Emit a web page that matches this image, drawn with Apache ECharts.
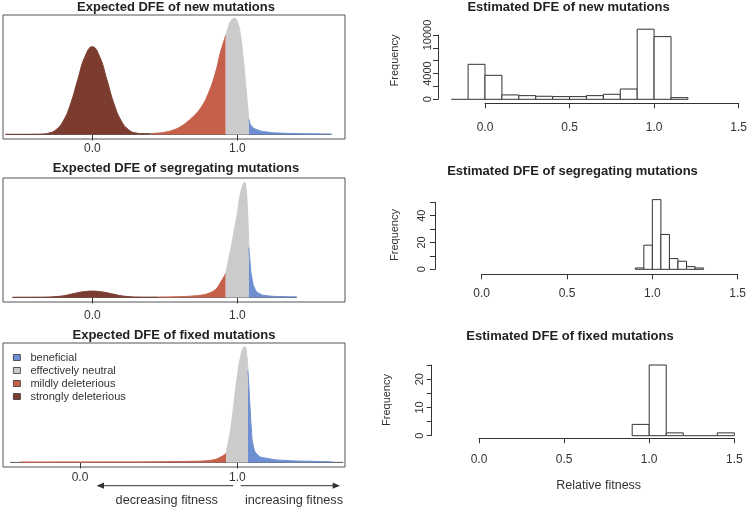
<!DOCTYPE html>
<html>
<head>
<meta charset="utf-8">
<script src="https://cdn.jsdelivr.net/npm/echarts@6/dist/echarts.min.js"></script>
<style>
html, body { margin: 0; padding: 0; background: #fff; }
#main { width: 750px; height: 508px; }
</style>
</head>
<body>
<div id="main"></div>
<script>
// expected DFE curves: relative fitness and curve height
const newX = [-0.6, -0.5, -0.4, -0.35, -0.3, -0.25, -0.2, -0.15, -0.1, -0.05, 0, 0.05, 0.1, 0.15, 0.2, 0.25, 0.3, 0.35, 0.4, 0.45, 0.5, 0.55, 0.6, 0.65, 0.7, 0.75, 0.8, 0.85, 0.88, 0.9, 0.92, 0.94, 0.96, 0.98, 1.0, 1.02, 1.04, 1.06, 1.08, 1.1, 1.15, 1.2, 1.3, 1.4, 1.5, 1.65];
const newY = [0, 0, 0.1, 0.3, 1.3, 4.7, 13.5, 30.5, 55, 78, 87.7, 78, 55, 30.5, 13.5, 4.7, 1.5, 0.8, 0.8, 1.3, 2.2, 4, 7, 12, 18.5, 27, 41, 62, 80, 90, 99, 108, 114.5, 116, 113, 101, 77, 46, 15, 8, 4, 2.5, 1.3, 0.9, 0.6, 0.3];
const newCuts = [0.4, 0.92, 1.08];
const newRange = [-0.6, 1.65];

const segX = [-0.55, -0.4, -0.3, -0.25, -0.2, -0.15, -0.1, -0.05, 0, 0.05, 0.1, 0.15, 0.2, 0.25, 0.3, 0.4, 0.45, 0.5, 0.6, 0.65, 0.7, 0.75, 0.8, 0.85, 0.88, 0.92, 0.94, 0.96, 0.98, 1.0, 1.02, 1.04, 1.05, 1.06, 1.07, 1.08, 1.09, 1.1, 1.12, 1.15, 1.2, 1.3, 1.41];
const segY = [0.1, 0.15, 0.35, 0.8, 1.6, 3.1, 4.7, 5.8, 6.3, 5.8, 4.7, 3.1, 1.6, 0.8, 0.35, 0.2, 0.3, 0.4, 0.7, 1, 1.5, 2.2, 4, 8, 14, 24, 38, 52, 68, 84, 103, 113, 115, 110, 88, 50, 32, 20, 9, 4, 1.8, 0.8, 0.5];
const segCuts = [0.45, 0.92, 1.08];
const segRange = [-0.55, 1.41];

const fixX = [-0.38, -0.2, 0, 0.2, 0.4, 0.5, 0.6, 0.7, 0.8, 0.85, 0.89, 0.928, 0.94, 0.96, 0.98, 1.0, 1.02, 1.04, 1.05, 1.06, 1.068, 1.08, 1.09, 1.1, 1.13, 1.19, 1.3, 1.5, 1.61];
const fixY = [0.3, 0.35, 0.4, 0.45, 0.5, 0.6, 0.8, 1.0, 1.6, 2.7, 5, 9, 18, 36, 61, 86, 105, 115, 115.5, 107, 92, 58, 32, 18, 7.5, 4, 2, 1, 0.5];
const fixCuts = [-1, 0.928, 1.068];
const fixRange = [-0.445, 1.674];

const classNames = ['strongly deleterious', 'mildly deleterious', 'effectively neutral', 'beneficial'];
const classColors = ['#7b3c2f', '#c6604a', '#cbcbcb', '#6d8fd2'];

// estimated DFE histograms: bin edges and counts
const newEdges = [-0.2, -0.1, 0, 0.1, 0.2, 0.3, 0.4, 0.5, 0.6, 0.7, 0.8, 0.9, 1.0, 1.1, 1.2];
const newCounts = [0, 5440, 3730, 680, 570, 470, 420, 420, 570, 780, 1600, 10900, 9750, 260];
const segEdges = [0.9, 0.95, 1.0, 1.05, 1.1, 1.15, 1.2, 1.25, 1.3];
const segCounts = [1, 18, 52, 26, 8, 6, 2, 1];
const fixEdges = [0.9, 1.0, 1.1, 1.2, 1.3, 1.4, 1.5];
const fixCounts = [4, 25, 1, 0, 0, 1];

const fitTicks = [0, 1];
const newFreqLabels = [0, 4000, 10000];
const segFreqLabels = [0, 20, 40];
const fixFreqLabels = [0, 10, 20];

const font = '"Liberation Sans", Arial, Helvetica, sans-serif';
const ink = '#333';

let myChart = echarts.init(document.getElementById('main'));

function densitySeries(xs, ys, cuts, range, idx) {
    let out = [{
        type: 'line', xAxisIndex: idx, yAxisIndex: idx, silent: true,
        data: [[range[0], 0], [range[1], 0]],
        symbol: 'none', lineStyle: { color: '#555', width: 1 }, z: 1
    }];
    let bounds = [-Infinity].concat(cuts, [Infinity]);
    let pts = xs.map((x, i) => [x, ys[i]]);
    for (let k = 0; k < 4; k++) {
        out.push({
            type: 'line', name: classNames[k], xAxisIndex: idx, yAxisIndex: idx, silent: true,
            data: pts.filter(p => p[0] >= bounds[k] && p[0] <= bounds[k + 1]),
            smooth: 0.5, symbol: 'none',
            itemStyle: { color: classColors[k] },
            lineStyle: { color: classColors[k], width: 1 },
            areaStyle: { color: classColors[k], opacity: 1 },
            z: 2
        });
    }
    return out;
}

function histSeries(edges, counts, idx) {
    return {
        type: 'custom', xAxisIndex: idx, yAxisIndex: idx, silent: true, clip: false,
        data: counts.map((c, i) => [edges[i], edges[i + 1], c]),
        encode: { x: [0, 1], y: 2 },
        renderItem: function (params, api) {
            let p0 = api.coord([api.value(0), api.value(2)]);
            let p1 = api.coord([api.value(1), 0]);
            if (api.value(2) === 0) {
                return { type: 'line', shape: { x1: p0[0], y1: p1[1], x2: p1[0], y2: p1[1] }, style: { stroke: ink, lineWidth: 1 } };
            }
            return {
                type: 'rect',
                shape: { x: p0[0], y: p0[1], width: p1[0] - p0[0], height: p1[1] - p0[1] },
                style: { fill: '#fff', stroke: ink, lineWidth: 1 }
            };
        }
    };
}

function densityX(idx, min, max, margin) {
    return {
        gridIndex: idx, type: 'value', min: min, max: max, offset: -4.6,
        axisLine: { show: false, onZero: false },
        splitLine: { show: false },
        axisTick: { customValues: fitTicks, length: 6, lineStyle: { color: ink } },
        axisLabel: { customValues: fitTicks, formatter: v => v.toFixed(1), margin: margin, fontSize: 12, color: ink, fontFamily: font }
    };
}

function histX(idx, offset, margin) {
    return {
        gridIndex: idx, type: 'value', min: 0, max: 1.5, interval: 0.5, offset: offset,
        axisLine: { show: true, onZero: false, lineStyle: { color: ink } },
        splitLine: { show: false },
        axisTick: { length: 5, lineStyle: { color: ink } },
        axisLabel: { formatter: v => v.toFixed(1), margin: margin, fontSize: 12, color: ink, fontFamily: font }
    };
}

function histY(idx, max, step, shown, offset, margin) {
    return {
        gridIndex: idx, type: 'value', min: 0, max: max, interval: step, offset: offset,
        axisLine: { show: true, onZero: false, lineStyle: { color: ink } },
        splitLine: { show: false },
        axisTick: { length: 5, lineStyle: { color: ink } },
        axisLabel: {
            rotate: 90, margin: margin, fontSize: 11, color: ink, fontFamily: font,
            formatter: v => shown.indexOf(v) >= 0 ? String(v) : ''
        }
    };
}

function label(text, x, y, size, bold, rot) {
    return {
        type: 'text', x: x, y: y, rotation: rot || 0, silent: true,
        style: {
            text: text, x: 0, y: 0, fill: bold ? '#222' : ink,
            font: (bold ? 'bold ' : '') + size + 'px ' + font,
            textAlign: 'center', textVerticalAlign: 'middle'
        }
    };
}

let boxStyle = { show: true, borderColor: '#555', borderWidth: 1, backgroundColor: 'transparent' };

let options = {
    animation: false,
    backgroundColor: '#fff',
    grid: [
        Object.assign({ left: 3, top: 15, width: 342, height: 124 }, boxStyle),
        Object.assign({ left: 3, top: 178, width: 342, height: 124 }, boxStyle),
        Object.assign({ left: 3, top: 343, width: 342, height: 124 }, boxStyle),
        { left: 485, top: 35, width: 256, height: 64.3 },
        { left: 481.7, top: 202.3, width: 256, height: 67 },
        { left: 479, top: 365, width: 255.3, height: 70.7 }
    ],
    xAxis: [
        densityX(0, -0.6159, 1.7428, 8.5),
        densityX(1, -0.6159, 1.7428, 12),
        densityX(2, -0.4895, 1.6847, 8.8),
        histX(3, 4, 18.5),
        histX(4, 5, 13),
        histX(5, 2.6, 15)
    ],
    yAxis: [
        { gridIndex: 0, type: 'value', min: -4.6, max: 119.4, show: false },
        { gridIndex: 1, type: 'value', min: -4.6, max: 119.4, show: false },
        { gridIndex: 2, type: 'value', min: -4.6, max: 119.4, show: false },
        histY(3, 10000, 2000, newFreqLabels, 47, 5),
        histY(4, 50, 10, segFreqLabels, 46.7, 8),
        histY(5, 25, 5, fixFreqLabels, 47.3, 6)
    ],
    legend: {
        data: ['beneficial', 'effectively neutral', 'mildly deleterious', 'strongly deleterious'],
        orient: 'vertical', left: 13, top: 352, padding: 0, icon: 'rect',
        itemWidth: 7, itemHeight: 6, itemGap: 2, selectedMode: false,
        itemStyle: { borderColor: '#333', borderWidth: 0.8 },
        textStyle: { fontSize: 11, color: ink, fontFamily: font, padding: [0, 0, 0, 5] }
    },
    series: [].concat(
        densitySeries(newX, newY, newCuts, newRange, 0),
        densitySeries(segX, segY, segCuts, segRange, 1),
        densitySeries(fixX, fixY, fixCuts, fixRange, 2),
        [histSeries(newEdges, newCounts, 3), histSeries(segEdges, segCounts, 4), histSeries(fixEdges, fixCounts, 5)]
    ),
    graphic: [
        label('Expected DFE of new mutations', 176, 7.5, 13, true),
        label('Expected DFE of segregating mutations', 176, 168.5, 13, true),
        label('Expected DFE of fixed mutations', 174, 335.2, 13, true),
        label('Estimated DFE of new mutations', 568.5, 7, 13, true),
        label('Estimated DFE of segregating mutations', 572.5, 171.9, 13, true),
        label('Estimated DFE of fixed mutations', 570, 336.9, 13, true),
        label('Frequency', 395, 60.5, 11, false, Math.PI / 2),
        label('Frequency', 395, 235, 11, false, Math.PI / 2),
        label('Frequency', 386.7, 400, 11, false, Math.PI / 2),
        label('Relative fitness', 598.7, 485.7, 12.5, false),
        label('decreasing fitness', 166.7, 500, 12.7, false),
        label('increasing fitness', 294, 500, 12.7, false),
        { type: 'line', silent: true, shape: { x1: 233.3, y1: 485.7, x2: 98, y2: 485.7 }, style: { stroke: ink, lineWidth: 1 } },
        { type: 'polygon', silent: true, shape: { points: [[96.7, 485.7], [104, 482.6], [104, 488.8]] }, style: { fill: ink } },
        { type: 'line', silent: true, shape: { x1: 240.7, y1: 485.7, x2: 338, y2: 485.7 }, style: { stroke: ink, lineWidth: 1 } },
        { type: 'polygon', silent: true, shape: { points: [[340, 485.7], [332.7, 482.6], [332.7, 488.8]] }, style: { fill: ink } }
    ]
};
myChart.setOption(options);
</script>
</body>
</html>
